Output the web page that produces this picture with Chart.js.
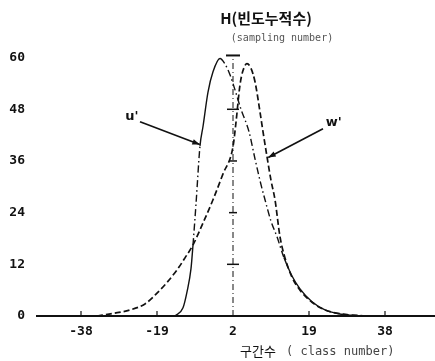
<!DOCTYPE html>
<html>
<head>
<meta charset="utf-8">
<script src="https://cdn.jsdelivr.net/npm/chart.js@4"></script>
<style>
  html, body { margin: 0; padding: 0; background: #fff; }
  #wrap { width: 435px; height: 361px; }
</style>
</head>
<body>
<div id="wrap"><canvas id="chart"></canvas></div>
<script>
// class number (x) and sampling count H (y) for each curve
const uX = [-14.5, -12.5, -11.5, -10.5, -10, -9.25, -8.25, -7.5, -6.25, -5, -3.25, -2, -0.75, 0.5, 2, 4, 5.5, 7, 8, 9.5, 11, 12.75, 14.75, 16.75, 19.75, 23, 27, 32];
const uY = [0, 1.9, 5.6, 11, 16.5, 26, 39.5, 44, 52, 56.7, 59.8, 58.5, 56, 52.5, 48, 42.8, 36.5, 30.5, 27, 22, 18.4, 13.5, 9.3, 6.3, 3.3, 1.4, 0.4, 0];

const wX = [-34, -30, -25.75, -22, -19, -16.5, -14, -12, -10, -7.5, -5, -2.5, 0, 0.75, 1.75, 2.5, 3.5, 4.5, 5.5, 6.75, 7.5, 8.5, 9.5, 10.5, 11.75, 13, 14.75, 16.75, 19.75, 23, 27, 33];
const wY = [0, 0.6, 1.4, 2.8, 5.3, 7.8, 10.7, 13.5, 16.5, 21.6, 27, 33, 39.3, 45, 53.7, 57, 58.6, 57.5, 54.4, 47.4, 42.8, 37, 31.5, 27, 18.4, 13.5, 9, 6, 3.2, 1.4, 0.5, 0];

const yTicks = [0, 12, 24, 36, 48, 60];
const xTicks = [-38, -19, 0, 19, 38];
const xTickLabels = ['-38', '-19', '2', '19', '38'];

// stretches of u' drawn dash-dot
const uDashDot = [[-10, -8.25], [-3.25, 13]];

const INK = '#111';
const tickFont = { family: 'DejaVu Sans Mono', size: 13, weight: 'bold' };

function toPoints(xs, ys) {
  return xs.map((x, i) => ({ x: x, y: ys[i] }));
}

function arrow(ctx, x1, y1, x2, y2) {
  const a = Math.atan2(y2 - y1, x2 - x1);
  ctx.beginPath();
  ctx.moveTo(x1, y1);
  ctx.lineTo(x2, y2);
  ctx.stroke();
  ctx.beginPath();
  ctx.moveTo(x2, y2);
  ctx.lineTo(x2 - 8 * Math.cos(a - 0.35), y2 - 8 * Math.sin(a - 0.35));
  ctx.lineTo(x2 - 8 * Math.cos(a + 0.35), y2 - 8 * Math.sin(a + 0.35));
  ctx.closePath();
  ctx.fill();
}

const decorations = {
  id: 'decorations',
  afterDatasetsDraw(chart) {
    const ctx = chart.ctx;
    const xs = chart.scales.x, ys = chart.scales.y;
    const px = v => xs.getPixelForValue(v);
    const py = v => ys.getPixelForValue(v);
    ctx.save();
    ctx.strokeStyle = INK;
    ctx.fillStyle = INK;

    // centre reference line with T cap and scale marks
    const cx = px(0);
    ctx.lineWidth = 1;
    ctx.setLineDash([6, 3, 1, 3]);
    ctx.beginPath();
    ctx.moveTo(cx, py(0));
    ctx.lineTo(cx, py(60.5));
    ctx.stroke();
    ctx.setLineDash([]);
    ctx.lineWidth = 2;
    ctx.beginPath();
    ctx.moveTo(cx - 7, py(60.5));
    ctx.lineTo(cx + 7, py(60.5));
    ctx.stroke();
    ctx.lineWidth = 1.5;
    [12, 24, 36, 48].forEach(v => {
      const w = (v === 12 || v === 48) ? 6 : 4;
      ctx.beginPath();
      ctx.moveTo(cx - w, py(v));
      ctx.lineTo(cx + w, py(v));
      ctx.stroke();
    });

    // small ticks on the class axis
    ctx.lineWidth = 1.2;
    xTicks.forEach(v => {
      if (v === 0) return;
      ctx.beginPath();
      ctx.moveTo(px(v), py(0));
      ctx.lineTo(px(v), py(0) - 5);
      ctx.stroke();
    });

    // curve labels with pointers
    ctx.lineWidth = 1.6;
    arrow(ctx, px(-23.25), py(45.1), px(-8.3), py(39.8));
    arrow(ctx, px(22.5), py(43.5), px(8.8), py(36.8));
    ctx.font = 'bold 13px "DejaVu Sans"';
    ctx.textAlign = 'center';
    ctx.textBaseline = 'middle';
    ctx.fillText("u'", px(-25.3), py(46.4));
    ctx.fillText("w'", px(25.2), py(44.8));

    // titles
    ctx.textBaseline = 'alphabetic';
    ctx.font = 'bold 15px "Noto Sans CJK KR"';
    ctx.fillText('H(빈도누적수)', 266, 24);
    ctx.fillStyle = '#555';
    ctx.font = '10px "DejaVu Sans Mono"';
    ctx.fillText('(sampling number)', 282, 41);

    ctx.textAlign = 'left';
    ctx.fillStyle = INK;
    ctx.font = '13px "Noto Sans CJK KR"';
    ctx.fillText('구간수', 240, 356);
    ctx.fillStyle = '#444';
    ctx.font = '12px "DejaVu Sans Mono"';
    ctx.fillText('( class number)', 286, 355);
    ctx.restore();
  }
};

new Chart(document.getElementById('chart'), {
  type: 'line',
  data: {
    datasets: [
      {
        label: "u'",
        data: toPoints(uX, uY),
        borderColor: INK,
        borderWidth: 1.4,
        pointRadius: 0,
        cubicInterpolationMode: 'monotone',
        segment: {
          borderDash: c => uDashDot.some(([a, b]) => c.p0.parsed.x >= a && c.p1.parsed.x <= b) ? [7, 3, 1.5, 3] : undefined
        }
      },
      {
        label: "w'",
        data: toPoints(wX, wY),
        borderColor: INK,
        borderWidth: 1.7,
        borderDash: [6, 3],
        pointRadius: 0,
        cubicInterpolationMode: 'monotone'
      }
    ]
  },
  options: {
    responsive: true,
    maintainAspectRatio: false,
    animation: false,
    layout: { padding: { top: 49, left: 0, right: 0, bottom: 0 } },
    plugins: {
      legend: { display: false },
      tooltip: { enabled: false }
    },
    scales: {
      x: {
        type: 'linear',
        min: -49,
        max: 50.5,
        afterFit: s => { s.height = 45; },
        afterBuildTicks: s => { s.ticks = xTicks.map(v => ({ value: v })); },
        grid: { display: false, drawTicks: false },
        border: { display: true, color: INK, width: 2 },
        ticks: {
          color: INK,
          font: tickFont,
          padding: 8,
          maxRotation: 0,
          autoSkip: false,
          callback: (v, i) => xTickLabels[i]
        }
      },
      y: {
        min: 0,
        max: 62,
        afterFit: s => { s.width = 37; },
        afterBuildTicks: s => { s.ticks = yTicks.map(v => ({ value: v })); },
        grid: { display: false, drawTicks: false },
        border: { display: false },
        ticks: {
          color: INK,
          font: tickFont,
          padding: 12
        }
      }
    }
  },
  plugins: [decorations]
});
</script>
</body>
</html>
